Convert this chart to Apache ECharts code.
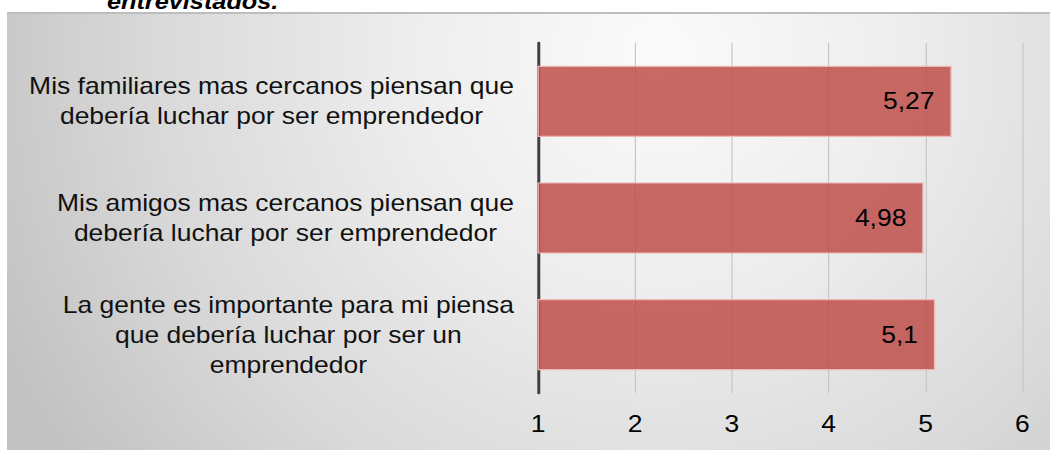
<!DOCTYPE html>
<html>
<head>
<meta charset="utf-8">
<script src="https://cdn.jsdelivr.net/npm/echarts@6/dist/echarts.min.js"></script>
<style>
  html, body { margin: 0; padding: 0; width: 1050px; height: 450px; overflow: hidden; background: #ffffff; }
  #panel {
    position: absolute; left: 7px; top: 12px; right: 0; bottom: 0;
    border-top: 2px solid #bdbdbd;
    background: radial-gradient(ellipse 720px 700px at 650px 40px, #fbfbfb 0%, #ededed 35%, #d9d9d9 70%, #c2c2c2 100%);
  }
  /* the chart is laid out narrower and widened horizontally */
  #chart {
    position: absolute; left: 0; top: 0; width: 913px; height: 450px;
    transform: scaleX(1.15); transform-origin: 0 0;
  }
</style>
</head>
<body>
<div id="panel"></div>
<div id="chart"></div>
<script>
// Statements, listed bottom to top as the category axis draws them
const categories = [
  'La gente es importante para mi piensa\nque debería luchar por ser un\nemprendedor',
  'Mis amigos mas cercanos piensan que\ndebería luchar por ser emprendedor',
  'Mis familiares mas cercanos piensan que\ndebería luchar por ser emprendedor'
];
// Mean agreement score for each statement
const values = [5.1, 4.98, 5.27];
// Scale of the value axis
const axisMin = 1;
const axisMax = 6;
const axisStep = 1;
const captionTail = 'entrevistados.';

const FONT = '"Liberation Sans", Arial, sans-serif';

const chart = echarts.init(document.getElementById('chart'), null, { renderer: 'svg' });

chart.setOption({
  backgroundColor: 'transparent',
  animation: false,
  textStyle: { fontFamily: FONT },
  graphic: [{
    type: 'text',
    left: 93,
    top: -9,
    style: {
      text: captionTail,
      font: 'italic bold 22px ' + FONT,
      fill: '#000000'
    }
  }],
  grid: { left: 468, right: 24, top: 43, bottom: 57, containLabel: false },
  xAxis: {
    type: 'value',
    min: axisMin,
    max: axisMax,
    interval: axisStep,
    axisLine: { show: false },
    axisTick: { show: false },
    axisLabel: { color: '#000000', fontSize: 23, margin: 20, fontFamily: FONT },
    splitLine: { show: true, lineStyle: { color: '#c4c4c4', width: 1 } }
  },
  yAxis: {
    type: 'category',
    data: categories,
    axisLine: { show: true, lineStyle: { color: '#404040', width: 2.6 } },
    axisTick: { show: false },
    axisLabel: {
      margin: 21,
      color: '#111111',
      fontSize: 23,
      lineHeight: 30,
      fontFamily: FONT,
      formatter: v => v.split('\n').map(l => '{c|' + l + '}').join('\n'),
      rich: {
        c: { align: 'center', fontSize: 23, lineHeight: 30, color: '#111111', fontFamily: FONT }
      }
    }
  },
  series: [{
    type: 'bar',
    data: values,
    barCategoryGap: '39%',
    itemStyle: {
      color: 'rgba(192, 80, 77, 0.86)',
      borderColor: '#efb6b4',
      borderWidth: 1.2
    },
    label: {
      show: true,
      position: 'insideRight',
      distance: 15,
      color: '#000000',
      fontSize: 23,
      fontFamily: FONT,
      formatter: p => String(p.value).replace('.', ',')
    }
  }]
});
</script>
</body>
</html>
